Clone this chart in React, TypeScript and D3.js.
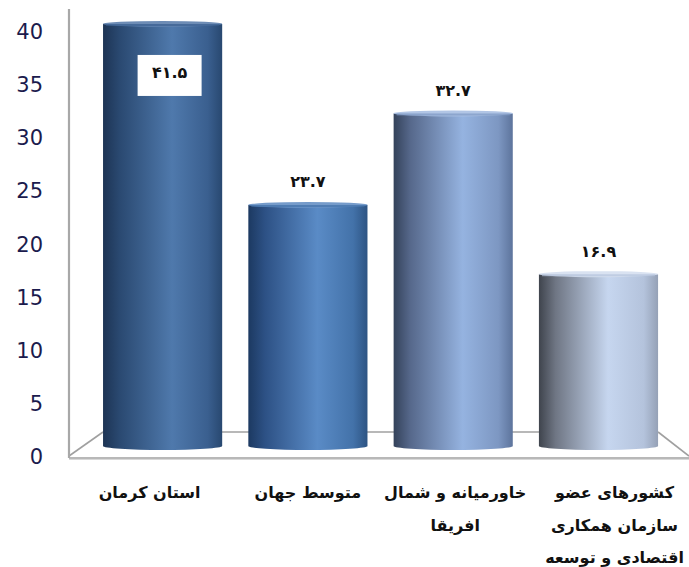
import React from "react";
import * as d3 from "d3";

const categories: string[][] = [
  ["استان کرمان"],
  ["متوسط جهان"],
  ["خاورمیانه و شمال", "افریقا"],
  ["کشورهای عضو", "سازمان همکاری", "اقتصادی و توسعه"],
];
const values: number[] = [41.5, 23.7, 32.7, 16.9];
const tickValues: number[] = [0, 5, 10, 15, 20, 25, 30, 35, 40];

const barColors: string[][] = [
  ["#1d3454", "#2a4971", "#4f79ac", "#3a5f8f", "#284870"],
  ["#1c3961", "#2d5185", "#5a8bc6", "#4372a9", "#2d5483"],
  ["#34425a", "#56688b", "#95b3e0", "#7d97c2", "#5d749c"],
  ["#3f444d", "#6f7684", "#c6d6ef", "#b4c3dc", "#95a1b6"],
];
const topColors: string[] = ["#5d80ad", "#6690c4", "#a9bfe2", "#d5dfef"];

const W = 689;
const H = 567;

const toPersian = (v: number) =>
  v.toFixed(1).replace(/[0-9]/g, (d) => "۰۱۲۳۴۵۶۷۸۹"[+d]);

export default function App() {
  const yAxis = d3.scaleLinear().domain([0, 40]).range([458, 33]);
  const yBar = d3.scaleLinear().domain([0, 40]).range([446, 39.2]);
  const x = d3
    .scaleBand<number>()
    .domain(values.map((_, i) => i))
    .range([85.6, 675.5])
    .paddingInner(0.18)
    .paddingOuter(0.12);
  const bw = x.bandwidth();
  const labelShift = [-13, 0, 2, 16];
  const floorBack = 432;
  const floorFront = yAxis(0);
  const axisX = 69;
  const x0 = x(0)!;
  const xLast = x(values.length - 1)! + bw;

  return (
    <svg
      width={W}
      height={H}
      style={{ position: "absolute", left: 0, top: 0, background: "#fff" }}
    >
      <defs>
        {barColors.map((c, i) => (
          <linearGradient key={i} id={`g${i}`} x1="0" x2="1" y1="0" y2="0">
            <stop offset="0%" stopColor={c[0]} />
            <stop offset="14%" stopColor={c[1]} />
            <stop offset="58%" stopColor={c[2]} />
            <stop offset="88%" stopColor={c[3]} />
            <stop offset="100%" stopColor={c[4]} />
          </linearGradient>
        ))}
      </defs>

      {/* floor */}
      <g stroke="#a0a0a0" strokeWidth={1.6} fill="none">
        <line x1={x0} y1={floorBack} x2={xLast} y2={floorBack} />
        <line x1={axisX} y1={floorFront - 2} x2={x0} y2={floorBack} />
        <line x1={xLast} y1={floorBack} x2={W} y2={floorFront - 2} />
        <line x1={axisX} y1={floorFront} x2={W} y2={floorFront} />
      </g>
      <line
        x1={axisX}
        y1={floorFront + 1.5}
        x2={W}
        y2={floorFront + 1.5}
        stroke="#d8d8d8"
        strokeWidth={1}
      />
      {/* y axis line */}
      <line
        x1={axisX}
        y1={9}
        x2={axisX}
        y2={floorFront}
        stroke="#a8a8a8"
        strokeWidth={2.2}
      />

      {/* tick labels */}
      {tickValues.map((t) => (
        <text
          key={t}
          x={43}
          y={yAxis(t)}
          textAnchor="end"
          dominantBaseline="middle"
          fontFamily="DejaVu Sans, sans-serif"
          fontSize={21}
          fill="#1b1b4d"
        >
          {t}
        </text>
      ))}

      {/* bars */}
      {values.map((v, i) => {
        const bx = x(i)!;
        const top = yBar(v);
        const bottom = yBar(0);
        return (
          <g key={i}>
            <path
              d={`M${bx},${top} L${bx},${bottom} A${bw / 2},4 0 0 0 ${bx + bw},${bottom} L${bx + bw},${top} Z`}
              fill={`url(#g${i})`}
            />
            <ellipse
              cx={bx + bw / 2}
              cy={top}
              rx={bw / 2}
              ry={3}
              fill={topColors[i]}
              opacity={0.9}
            />
            <line
              x1={bx + 3}
              y1={top + 1}
              x2={bx + bw - 3}
              y2={top + 1}
              stroke={barColors[i][3]}
              strokeWidth={2}
              opacity={0.6}
            />
          </g>
        );
      })}

      {/* value labels */}
      {values.map((v, i) => {
        const cx = x(i)! + bw / 2;
        const top = yBar(v);
        const inside = i === 0;
        const ty = inside ? top + 50 : top - 22;
        return (
          <g key={i}>
            {inside && (
              <rect x={cx - 25} y={top + 31} width={64} height={41} fill="#fff" />
            )}
            <text
              x={inside ? cx + 7 : cx}
              y={ty}
              textAnchor="middle"
              dominantBaseline="middle"
              fontFamily="DejaVu Sans, sans-serif"
              fontWeight="bold"
              fontSize={16}
              fill="#111"
            >
              {toPersian(v)}
            </text>
          </g>
        );
      })}

      {/* category labels */}
      {categories.map((lines, i) => {
        const cx = x(i)! + bw / 2 + labelShift[i];
        return (
          <text
            key={i}
            textAnchor="middle"
            direction="rtl"
            fontFamily="DejaVu Sans, sans-serif"
            fontWeight="bold"
            fontSize={16}
            fill="#111"
          >
            {lines.map((ln, j) => (
              <tspan key={j} x={cx} y={498 + j * 32.5}>
                {ln}
              </tspan>
            ))}
          </text>
        );
      })}
    </svg>
  );
}
